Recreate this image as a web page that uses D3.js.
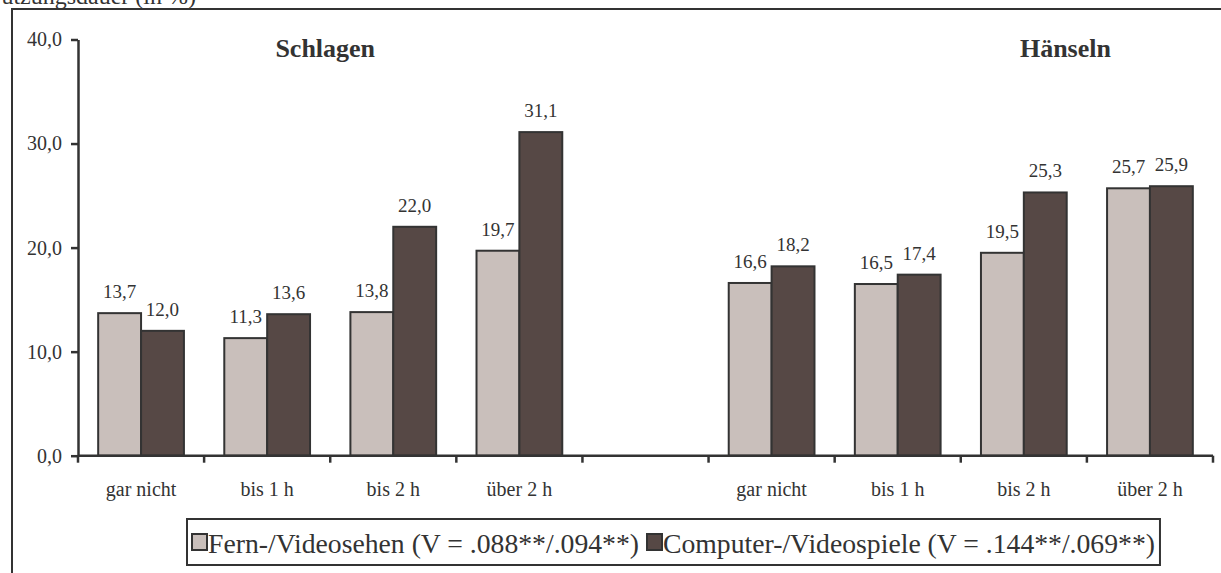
<!DOCTYPE html>
<meta charset="utf-8">
<script src="https://d3js.org/d3.v7.min.js"></script>
<style>
body { margin: 0; background: #fff; }
svg text { font-family: "Liberation Serif", Tinos, "Times New Roman", Times, "DejaVu Serif", serif; fill: #333; }
</style>
<div id="chart"></div>
<script>
// data
var groups = ["Schlagen", "Hänseln"];
var categories = ["gar nicht", "bis 1 h", "bis 2 h", "über 2 h"];
var fernValues = [[13.7, 11.3, 13.8, 19.7], [16.6, 16.5, 19.5, 25.7]];
var compValues = [[12.0, 13.6, 22.0, 31.1], [18.2, 17.4, 25.3, 25.9]];
var seriesNames = ["Fern-/Videosehen (V = .088**/.094**)", "Computer-/Videospiele (V = .144**/.069**)"];
var seriesColors = ["#c9bfbb", "#564845"];
var yTicks = [0, 10, 20, 30, 40];

var W = 1221, H = 573;
var svg = d3.select("#chart").append("svg").attr("width", W).attr("height", H);

// band keys: 4 categories, one empty slot, 4 categories
var keys = [];
categories.forEach(function(c, i) { keys.push("0-" + i); });
keys.push("gap");
categories.forEach(function(c, i) { keys.push("1-" + i); });

var x = d3.scaleBand().domain(keys).range([78, 1213]);
var y = d3.scaleLinear().domain([0, 40]).range([455.7, 39.5]);
var fmt = function(v) { return d3.format(".1f")(v).replace(".", ","); };

// cut-off heading and outer frame
svg.append("text").attr("x", 196).attr("y", 4).attr("text-anchor", "end")
  .style("font-size", "24px").text("Nutzungsdauer (in %)");
svg.append("path").attr("d", "M12," + H + "V9H" + W)
  .attr("fill", "none").attr("stroke", "#333").attr("stroke-width", 2);

// y axis
var yAxis = svg.append("g").attr("transform", "translate(78,0)")
  .call(d3.axisLeft(y).tickValues(yTicks).tickSize(7).tickSizeOuter(0).tickPadding(9).tickFormat(fmt));
yAxis.attr("font-family", null);
yAxis.select(".domain").attr("stroke", "#333").attr("stroke-width", 2.5);
yAxis.selectAll(".tick line").attr("stroke", "#333").attr("stroke-width", 2.5);
yAxis.selectAll(".tick text").style("font-size", "20px").attr("fill", "#333");

// bars
var barW = x.bandwidth() * 0.34;
var rows = [];
groups.forEach(function(g, gi) {
  categories.forEach(function(c, ci) {
    rows.push({ key: gi + "-" + ci, s: 0, v: fernValues[gi][ci] });
    rows.push({ key: gi + "-" + ci, s: 1, v: compValues[gi][ci] });
  });
});
function barX(d) { return x(d.key) + x.bandwidth() / 2 - barW + d.s * barW; }

svg.append("g").selectAll("rect").data(rows).enter().append("rect")
  .attr("x", barX)
  .attr("y", function(d) { return y(d.v); })
  .attr("width", barW)
  .attr("height", function(d) { return y(0) - y(d.v); })
  .attr("fill", function(d) { return seriesColors[d.s]; })
  .attr("stroke", "#333").attr("stroke-width", 2);

svg.append("g").selectAll("text").data(rows).enter().append("text")
  .attr("x", function(d) { return barX(d) + barW / 2; })
  .attr("y", function(d) { return y(d.v) - 15; })
  .attr("text-anchor", "middle").style("font-size", "19px")
  .text(function(d) { return fmt(d.v); });

// x axis line and ticks at band edges
var edges = keys.map(function(k) { return x(k); }).concat([x.range()[1]]);
svg.append("line").attr("x1", 78).attr("x2", 1213).attr("y1", y(0)).attr("y2", y(0))
  .attr("stroke", "#333").attr("stroke-width", 2.5);
svg.append("g").selectAll("line").data(edges).enter().append("line")
  .attr("x1", function(d) { return d; }).attr("x2", function(d) { return d; })
  .attr("y1", y(0)).attr("y2", y(0) + 7)
  .attr("stroke", "#333").attr("stroke-width", 2.5);

// category labels
svg.append("g").selectAll("text").data(keys.filter(function(k) { return k !== "gap"; }))
  .enter().append("text")
  .attr("x", function(k) { return x(k) + x.bandwidth() / 2; })
  .attr("y", 496).attr("text-anchor", "middle").style("font-size", "20px")
  .text(function(k) { return categories[+k.split("-")[1]]; });

// group titles
svg.append("text").attr("x", x("0-2") - 5).attr("y", 57).attr("text-anchor", "middle")
  .style("font-size", "26px").style("font-weight", "bold").text(groups[0]);
svg.append("text").attr("x", x("1-2") + x.bandwidth() * 0.83).attr("y", 57).attr("text-anchor", "middle")
  .style("font-size", "26px").style("font-weight", "bold").text(groups[1]);

// legend
var lg = svg.append("g");
var box = lg.append("rect").attr("y", 519).attr("height", 46)
  .attr("fill", "#fff").attr("stroke", "#333").attr("stroke-width", 2);
var cx = 192;
seriesNames.forEach(function(name, i) {
  lg.append("rect").attr("x", cx).attr("y", 534).attr("width", 15).attr("height", 16)
    .attr("fill", seriesColors[i]).attr("stroke", "#333").attr("stroke-width", 2);
  var t = lg.append("text").attr("x", cx + 16).attr("y", 553).style("font-size", "27.7px").text(name);
  cx += 16 + t.node().getComputedTextLength() + 8;
});
box.attr("x", 187).attr("width", cx - 8 + 5 - 187);
</script>
